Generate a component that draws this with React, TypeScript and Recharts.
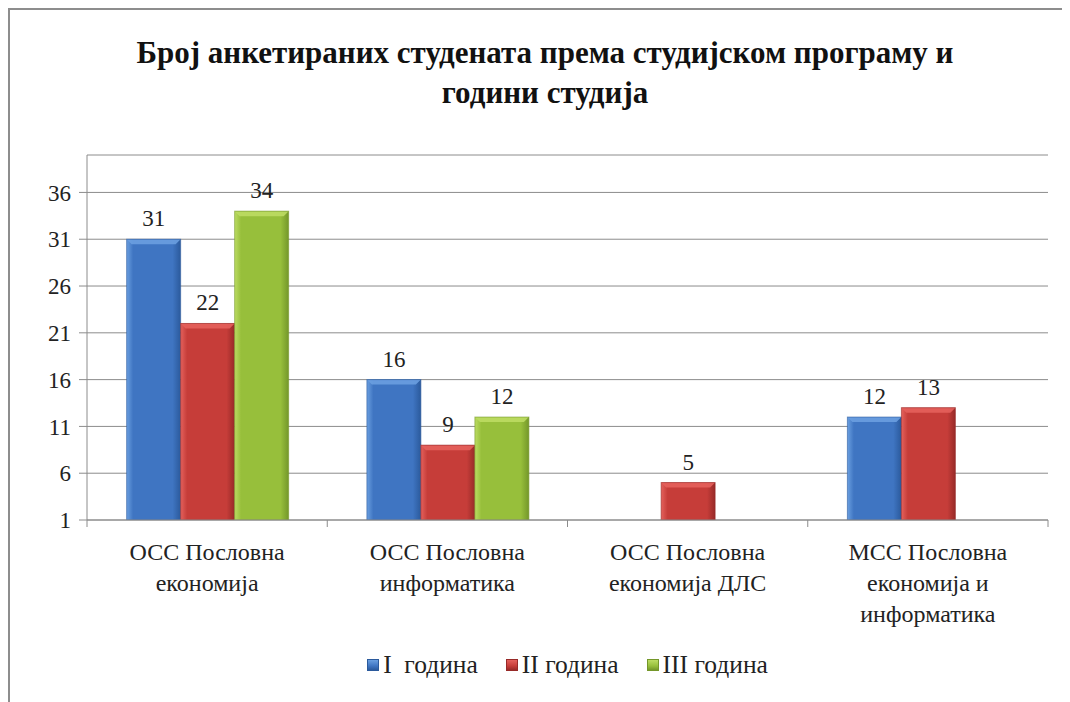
import React from "react";
import { BarChart, Bar, XAxis, YAxis, CartesianGrid, LabelList, Legend } from "recharts";

const categories = [
  "ОСС Пословна\nекономија",
  "ОСС Пословна\nинформатика",
  "ОСС Пословна\nекономија ДЛС",
  "МСС Пословна\nекономија и\nинформатика",
];
const firstYear = [31, 16, null, 12];
const secondYear = [22, 9, 5, 13];
const thirdYear = [34, 12, null, null];
const seriesNames = ["I  година", "II година", "III година"];
const yTicks = [1, 6, 11, 16, 21, 26, 31, 36];

const FONT = "'Liberation Serif', 'Times New Roman', serif";
const GRID = "#8c8c8c";

const PALETTE = [
  { id: "b", light: "#6a9fe0", mid: "#3f75c2", dark: "#2b5a9c" },
  { id: "r", light: "#e4615c", mid: "#c63d39", dark: "#972a28" },
  { id: "g", light: "#bcdc63", mid: "#97bf3b", dark: "#74972a" },
];

const data = categories.map((name, i) => ({
  name,
  s0: firstYear[i],
  s1: secondYear[i],
  s2: thirdYear[i],
}));

// bar with a light bevel on top and edges, like the office 3D style
const bevelBar = (c: (typeof PALETTE)[number]) => (props: any) => {
  const { x, y, width, height } = props;
  if (!height || height <= 0) return <g />;
  const b = Math.min(5, height / 2);
  return (
    <g>
      <rect x={x} y={y} width={width} height={height} fill={`url(#grad-${c.id})`} />
      <polygon
        points={`${x},${y} ${x + width},${y} ${x + width - b},${y + b} ${x + b},${y + b}`}
        fill={c.light}
        opacity={0.9}
      />
      <rect x={x} y={y} width={width} height={height} fill="none" stroke={c.dark} strokeWidth={1} opacity={0.6} />
    </g>
  );
};

const CatTick = (props: any) => {
  const { x, y, payload, index } = props;
  const half = payload?.offset > 0 ? payload.offset : 961 / categories.length / 2;
  const lines = String(payload.value).split("\n");
  return (
    <g>
      <line x1={x - half} y1={y} x2={x - half} y2={y + 7} stroke={GRID} />
      {index === categories.length - 1 && (
        <line x1={x + half} y1={y} x2={x + half} y2={y + 7} stroke={GRID} />
      )}
      <text x={x} y={y + 40} textAnchor="middle" style={{ fontFamily: FONT }} fontSize={24} fill="#222">
        {lines.map((l, i) => (
          <tspan key={i} x={x} dy={i === 0 ? 0 : 31}>
            {l}
          </tspan>
        ))}
      </text>
    </g>
  );
};

const LegendContent = () => (
  <div
    style={{
      display: "flex",
      justifyContent: "center",
      gap: 28,
      height: 30,
      alignItems: "center",
      fontFamily: FONT,
      fontSize: 25.5,
      color: "#222",
    }}
  >
    {seriesNames.map((n, i) => (
      <div key={n} style={{ display: "flex", alignItems: "center", gap: 4 }}>
        <div
          style={{
            width: 10,
            height: 10,
            background: `linear-gradient(180deg, ${PALETTE[i].light}, ${PALETTE[i].mid} 60%, ${PALETTE[i].dark})`,
            border: `1px solid ${PALETTE[i].dark}`,
          }}
        />
        <span style={{ whiteSpace: "pre" }}>{n}</span>
      </div>
    ))}
  </div>
);

export default function App() {
  return (
    <div style={{ position: "relative", width: 1062, height: 694, background: "#fff" }}>
      <div style={{ position: "absolute", left: 0, top: 0, width: 1062, height: 2, background: "#8d8d8d" }} />
      <div style={{ position: "absolute", left: 0, top: 0, width: 2, height: 694, background: "#8d8d8d" }} />
      <div
        style={{
          position: "absolute",
          left: 6,
          top: 25,
          width: 1062,
          textAlign: "center",
          fontFamily: FONT,
          fontWeight: "bold",
          fontSize: 31,
          lineHeight: "40px",
          color: "#111",
        }}
      >
        Број анкетираних студената према студијском програму и
        <br />
        години студија
      </div>
      <BarChart
        width={1062}
        height={694}
        data={data}
        margin={{ top: 147, right: 22, left: 0, bottom: 22 }}
        barCategoryGap="16.5%"
        barGap={0}
      >
        <defs>
          {PALETTE.map((c) => (
            <linearGradient key={c.id} id={`grad-${c.id}`} x1="0" y1="0" x2="1" y2="0">
              <stop offset="0%" stopColor={c.light} />
              <stop offset="12%" stopColor={c.mid} />
              <stop offset="85%" stopColor={c.mid} />
              <stop offset="100%" stopColor={c.dark} />
            </linearGradient>
          ))}
        </defs>
        <CartesianGrid vertical={false} stroke={GRID} />
        <XAxis
          dataKey="name"
          height={130}
          interval={0}
          tickSize={0}
          tickMargin={0}
          tickLine={false}
          axisLine={{ stroke: GRID }}
          tick={<CatTick />}
        />
        <YAxis
          width={79}
          domain={[1, 40]}
          ticks={yTicks}
          allowDataOverflow
          tickSize={8}
          tickMargin={8}
          axisLine={{ stroke: GRID }}
          tickLine={{ stroke: GRID }}
          tick={{ style: { fontFamily: FONT }, fontSize: 23, fill: "#222" }}
        />
        <Legend
          verticalAlign="bottom"
          content={<LegendContent />}
          wrapperStyle={{ left: 79, width: 961 }}
        />
        {["s0", "s1", "s2"].map((k, i) => (
          <Bar
            key={k}
            dataKey={k}
            name={seriesNames[i]}
            fill={PALETTE[i].mid}
            shape={bevelBar(PALETTE[i])}
            isAnimationActive={false}
          >
            <LabelList dataKey={k} position="top" offset={13} style={{ fontFamily: FONT }} fontSize={23} fill="#222" />
          </Bar>
        ))}
      </BarChart>
    </div>
  );
}
